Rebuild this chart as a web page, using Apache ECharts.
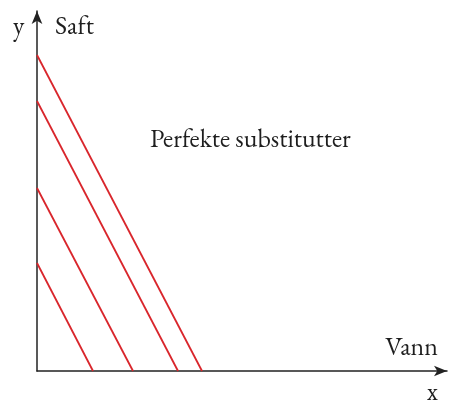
<!DOCTYPE html>
<html>
<head>
<meta charset="utf-8">
<script src="https://cdn.jsdelivr.net/npm/echarts@6/dist/echarts.min.js"></script>
<style>
  html, body { margin: 0; padding: 0; background: #fff; }
  #chart { width: 450px; height: 405px; }
</style>
</head>
<body>
<div id="chart"></div>
<script>
// Indifference curves for perfect substitutes: straight lines from the y-intercept to the x-intercept
const yIntercepts = [10.8, 18.3, 27.0, 31.6];
const xIntercepts = [5.6, 9.6, 14.1, 16.5];
const axisMaxX = 41;
const axisMaxY = 36;
const titleText = 'Perfekte substitutter';
const xName = 'Vann';
const yName = 'Saft';

const serif = '"EB Garamond", Garamond, "Liberation Serif", "DejaVu Serif", serif';
const red = '#d9262c';
const ink = '#1e1e1e';
const fontSize = 26;
const ascent = 17; // distance from the top of the text box to the baseline

const series = yIntercepts.map((yi, i) => ({
  type: 'line',
  data: [[0, yi], [xIntercepts[i], 0]],
  symbol: 'none',
  silent: true,
  lineStyle: { color: red, width: 1.8 },
  z: 2
}));

// place a label by its baseline
function label(text, x, baseline, align) {
  return {
    type: 'text', x: x, y: baseline - ascent,
    style: { text: text, font: fontSize + 'px ' + serif, fill: ink, textAlign: align || 'left', textVerticalAlign: 'top' }
  };
}

const chart = echarts.init(document.getElementById('chart'));
chart.setOption({
  animation: false,
  grid: { left: 37, right: 3, top: 11, bottom: 34 },
  xAxis: {
    type: 'value', min: 0, max: axisMaxX,
    axisLine: { show: true, symbol: ['none', 'arrow'], symbolSize: [8, 13], lineStyle: { color: '#222', width: 1.5 } },
    axisTick: { show: false }, axisLabel: { show: false }, splitLine: { show: false }
  },
  yAxis: {
    type: 'value', min: 0, max: axisMaxY,
    axisLine: { show: true, symbol: ['none', 'arrow'], symbolSize: [8, 13], lineStyle: { color: '#222', width: 1.5 } },
    axisTick: { show: false }, axisLabel: { show: false }, splitLine: { show: false }
  },
  series: series,
  graphic: [
    label('y', 13, 31),
    label(yName, 55, 31),
    label(titleText, 150, 144),
    label(xName, 438, 352, 'right'),
    label('x', 438, 397, 'right')
  ]
});
</script>
</body>
</html>
